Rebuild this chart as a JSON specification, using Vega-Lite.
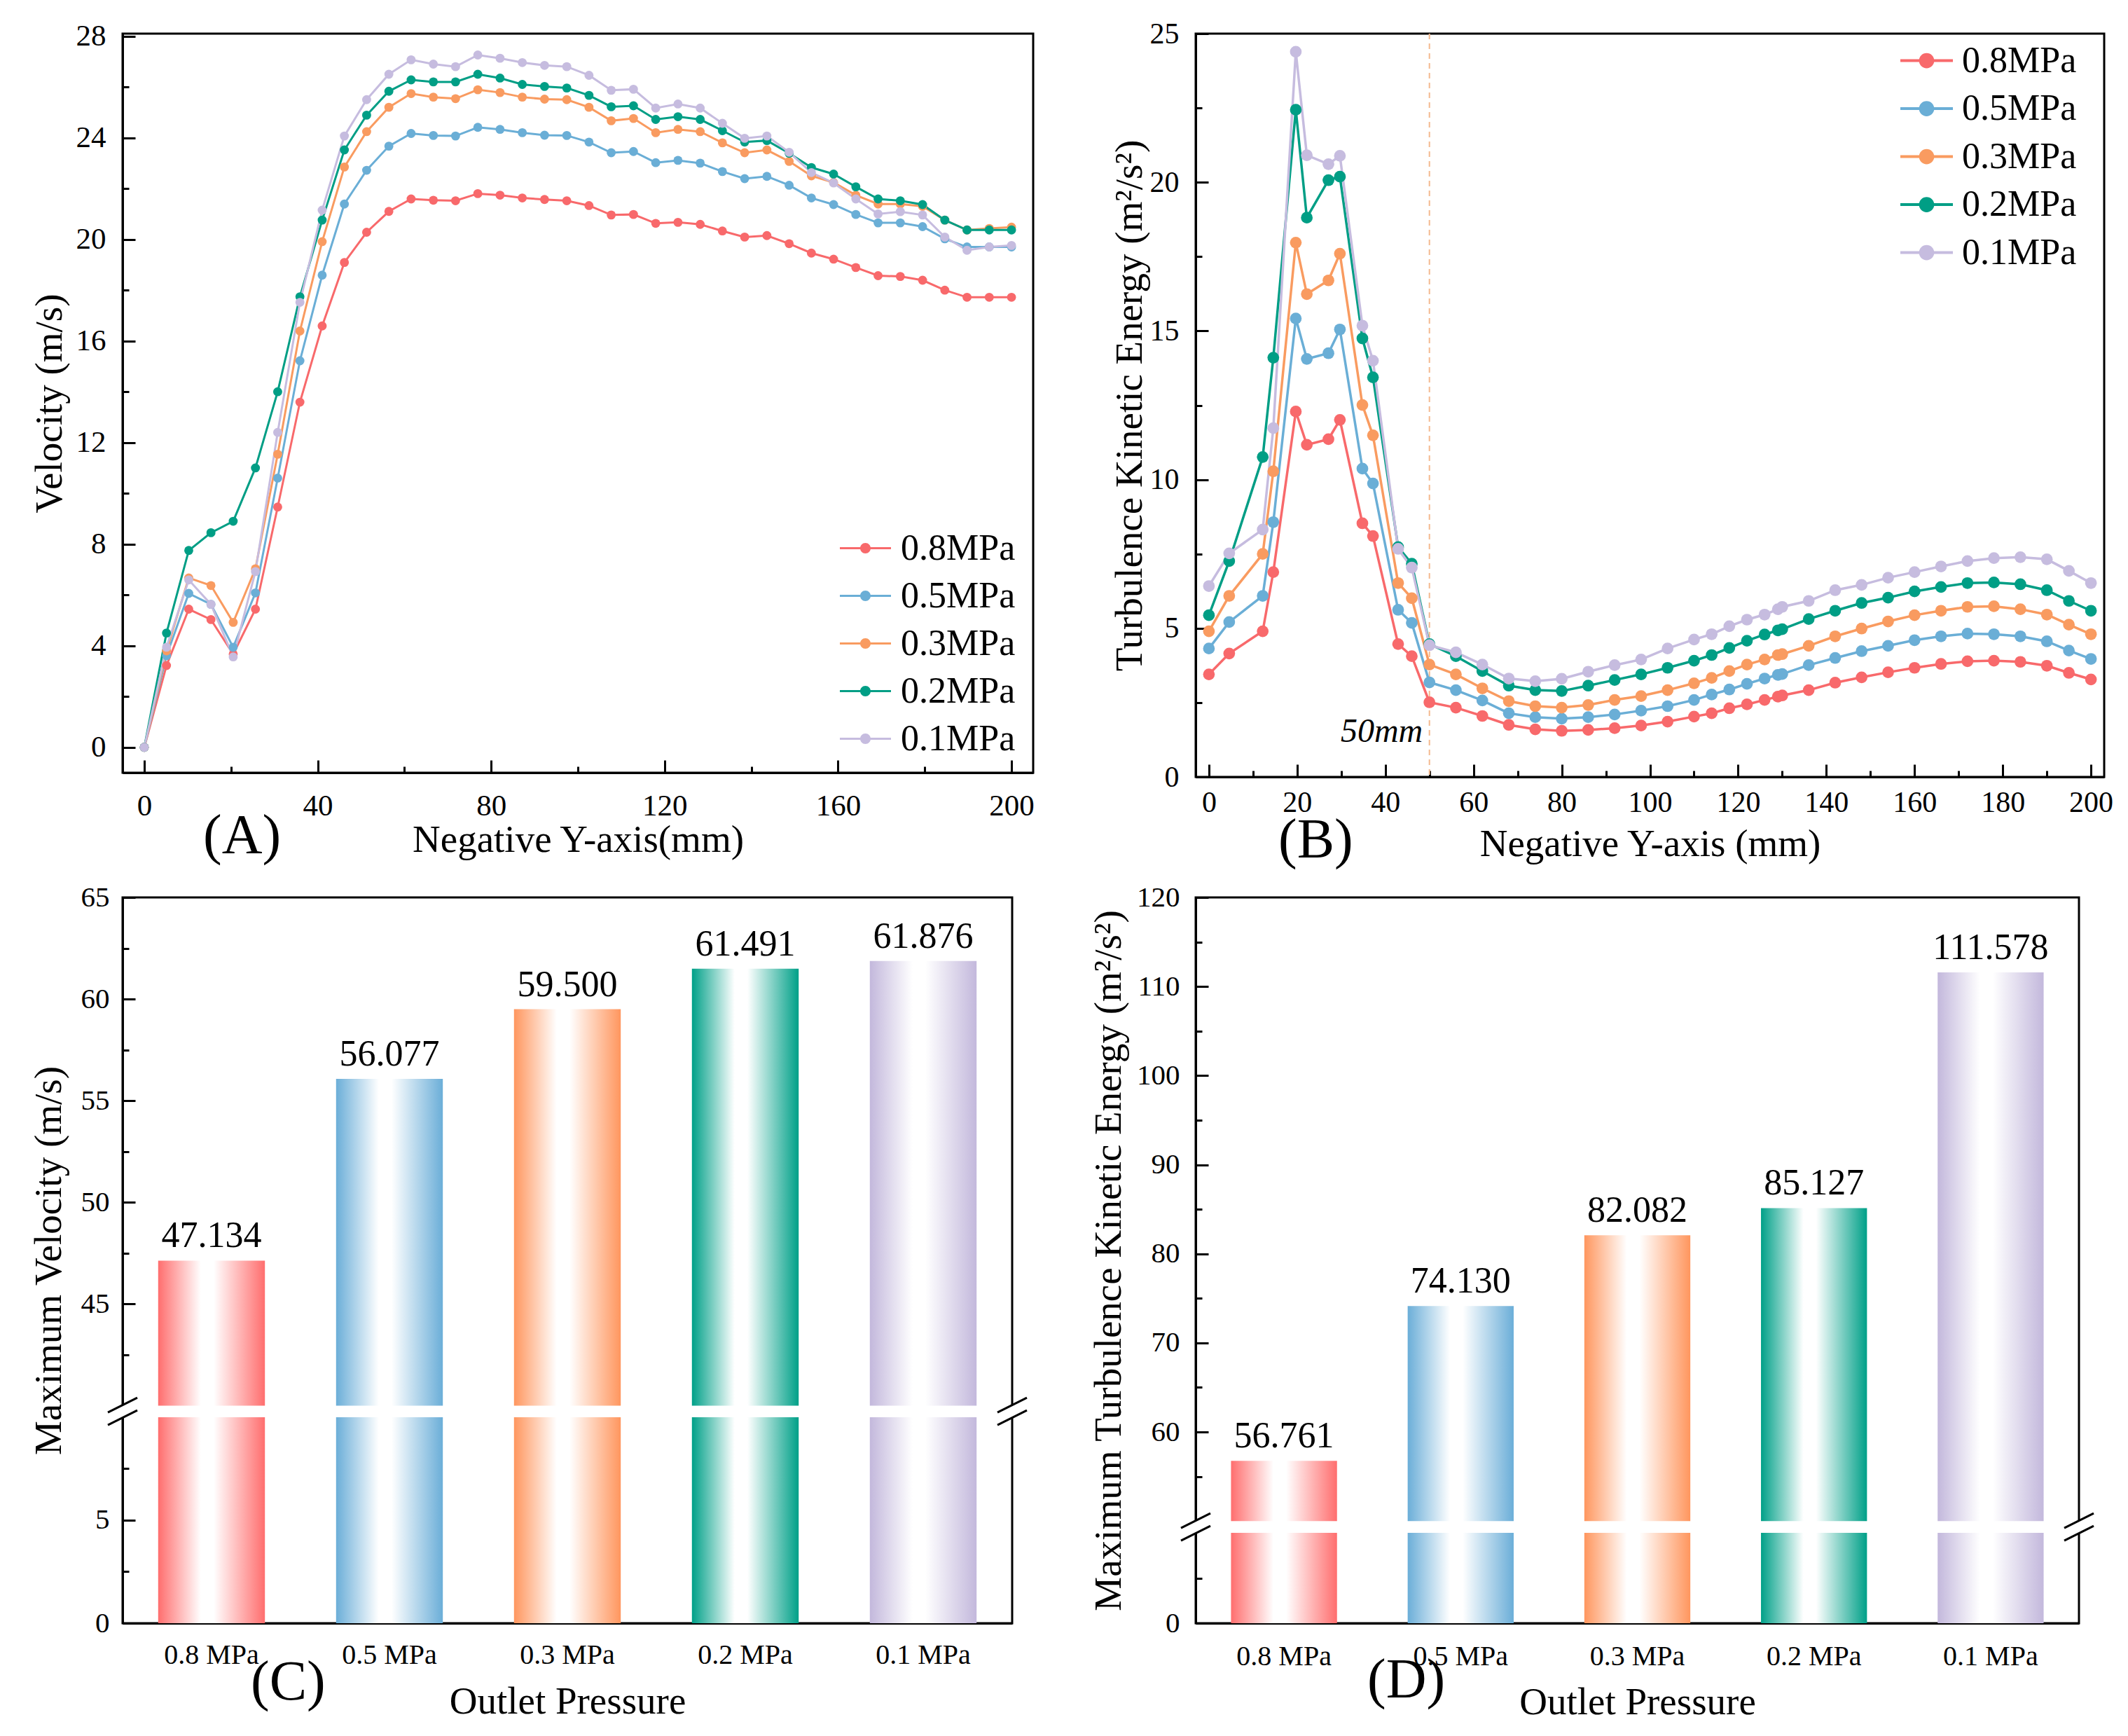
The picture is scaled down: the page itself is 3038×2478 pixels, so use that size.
{
"$schema": "https://vega.github.io/schema/vega-lite/v6.json",
"background": "white",
"padding": {"left": 40, "top": 25, "right": 10, "bottom": 10},
"columns": 2,
"spacing": {"row": 172, "column": 232},
"bounds": "flush",
"align": "all",
"resolve": {"scale": {"color": "independent", "stroke": "independent"}, "legend": {"color": "independent", "stroke": "independent"}},
"config": {
  "font": "Liberation Serif",
  "view": {"stroke": "black", "strokeWidth": 3},
  "axis": {"domainColor": "black", "domainWidth": 3, "tickColor": "black", "tickWidth": 3, "labelColor": "black", "titleColor": "black", "labelFont": "Liberation Serif", "titleFont": "Liberation Serif", "labelFontSize": 43, "titleFontSize": 55, "titleFontWeight": "normal", "grid": false, "labelFlush": false},
  "legend": {"labelFont": "Liberation Serif", "labelFontSize": 52, "labelColor": "black", "labelLimit": 500},
  "title": {"font": "Liberation Serif", "fontSize": 80, "fontWeight": "normal", "color": "black"},
  "text": {"font": "Liberation Serif", "color": "black"}
},
"datasets": {
"vel": [
{"s":"0.8MPa","x":0,"y":0},{"s":"0.8MPa","x":5.13,"y":3.22},{"s":"0.8MPa","x":10.26,"y":5.44},{"s":"0.8MPa","x":15.38,"y":5.03},{"s":"0.8MPa","x":20.51,"y":3.67},{"s":"0.8MPa","x":25.64,"y":5.44},{"s":"0.8MPa","x":30.77,"y":9.46},{"s":"0.8MPa","x":35.9,"y":13.59},{"s":"0.8MPa","x":41.03,"y":16.59},{"s":"0.8MPa","x":46.15,"y":19.09},{"s":"0.8MPa","x":51.28,"y":20.28},{"s":"0.8MPa","x":56.41,"y":21.1},{"s":"0.8MPa","x":61.54,"y":21.59},{"s":"0.8MPa","x":66.67,"y":21.54},{"s":"0.8MPa","x":71.79,"y":21.52},{"s":"0.8MPa","x":76.92,"y":21.8},{"s":"0.8MPa","x":82.05,"y":21.74},{"s":"0.8MPa","x":87.18,"y":21.63},{"s":"0.8MPa","x":92.31,"y":21.57},{"s":"0.8MPa","x":97.44,"y":21.52},{"s":"0.8MPa","x":102.56,"y":21.33},{"s":"0.8MPa","x":107.69,"y":20.96},{"s":"0.8MPa","x":112.82,"y":20.98},{"s":"0.8MPa","x":117.95,"y":20.63},{"s":"0.8MPa","x":123.08,"y":20.67},{"s":"0.8MPa","x":128.21,"y":20.59},{"s":"0.8MPa","x":133.33,"y":20.33},{"s":"0.8MPa","x":138.46,"y":20.09},{"s":"0.8MPa","x":143.59,"y":20.15},{"s":"0.8MPa","x":148.72,"y":19.83},{"s":"0.8MPa","x":153.85,"y":19.46},{"s":"0.8MPa","x":158.97,"y":19.22},{"s":"0.8MPa","x":164.1,"y":18.89},{"s":"0.8MPa","x":169.23,"y":18.57},{"s":"0.8MPa","x":174.36,"y":18.54},{"s":"0.8MPa","x":179.49,"y":18.39},{"s":"0.8MPa","x":184.62,"y":18.0},{"s":"0.8MPa","x":189.74,"y":17.72},{"s":"0.8MPa","x":194.87,"y":17.72},{"s":"0.8MPa","x":200,"y":17.72},
{"s":"0.5MPa","x":0,"y":0},{"s":"0.5MPa","x":5.13,"y":3.61},{"s":"0.5MPa","x":10.26,"y":6.06},{"s":"0.5MPa","x":15.38,"y":5.63},{"s":"0.5MPa","x":20.51,"y":3.94},{"s":"0.5MPa","x":25.64,"y":6.08},{"s":"0.5MPa","x":30.77,"y":10.6},{"s":"0.5MPa","x":35.9,"y":15.22},{"s":"0.5MPa","x":41.03,"y":18.59},{"s":"0.5MPa","x":46.15,"y":21.39},{"s":"0.5MPa","x":51.28,"y":22.72},{"s":"0.5MPa","x":56.41,"y":23.67},{"s":"0.5MPa","x":61.54,"y":24.17},{"s":"0.5MPa","x":66.67,"y":24.09},{"s":"0.5MPa","x":71.79,"y":24.07},{"s":"0.5MPa","x":76.92,"y":24.41},{"s":"0.5MPa","x":82.05,"y":24.33},{"s":"0.5MPa","x":87.18,"y":24.2},{"s":"0.5MPa","x":92.31,"y":24.1},{"s":"0.5MPa","x":97.44,"y":24.09},{"s":"0.5MPa","x":102.56,"y":23.83},{"s":"0.5MPa","x":107.69,"y":23.41},{"s":"0.5MPa","x":112.82,"y":23.46},{"s":"0.5MPa","x":117.95,"y":23.02},{"s":"0.5MPa","x":123.08,"y":23.11},{"s":"0.5MPa","x":128.21,"y":23.0},{"s":"0.5MPa","x":133.33,"y":22.67},{"s":"0.5MPa","x":138.46,"y":22.39},{"s":"0.5MPa","x":143.59,"y":22.48},{"s":"0.5MPa","x":148.72,"y":22.13},{"s":"0.5MPa","x":153.85,"y":21.63},{"s":"0.5MPa","x":158.97,"y":21.37},{"s":"0.5MPa","x":164.1,"y":20.98},{"s":"0.5MPa","x":169.23,"y":20.65},{"s":"0.5MPa","x":174.36,"y":20.65},{"s":"0.5MPa","x":179.49,"y":20.5},{"s":"0.5MPa","x":184.62,"y":20.02},{"s":"0.5MPa","x":189.74,"y":19.7},{"s":"0.5MPa","x":194.87,"y":19.7},{"s":"0.5MPa","x":200,"y":19.7},
{"s":"0.3MPa","x":0,"y":0},{"s":"0.3MPa","x":5.13,"y":3.8},{"s":"0.3MPa","x":10.26,"y":6.67},{"s":"0.3MPa","x":15.38,"y":6.37},{"s":"0.3MPa","x":20.51,"y":4.92},{"s":"0.3MPa","x":25.64,"y":7.03},{"s":"0.3MPa","x":30.77,"y":11.54},{"s":"0.3MPa","x":35.9,"y":16.39},{"s":"0.3MPa","x":41.03,"y":19.91},{"s":"0.3MPa","x":46.15,"y":22.85},{"s":"0.3MPa","x":51.28,"y":24.24},{"s":"0.3MPa","x":56.41,"y":25.2},{"s":"0.3MPa","x":61.54,"y":25.74},{"s":"0.3MPa","x":66.67,"y":25.6},{"s":"0.3MPa","x":71.79,"y":25.54},{"s":"0.3MPa","x":76.92,"y":25.89},{"s":"0.3MPa","x":82.05,"y":25.78},{"s":"0.3MPa","x":87.18,"y":25.6},{"s":"0.3MPa","x":92.31,"y":25.52},{"s":"0.3MPa","x":97.44,"y":25.5},{"s":"0.3MPa","x":102.56,"y":25.2},{"s":"0.3MPa","x":107.69,"y":24.67},{"s":"0.3MPa","x":112.82,"y":24.76},{"s":"0.3MPa","x":117.95,"y":24.2},{"s":"0.3MPa","x":123.08,"y":24.33},{"s":"0.3MPa","x":128.21,"y":24.24},{"s":"0.3MPa","x":133.33,"y":23.8},{"s":"0.3MPa","x":138.46,"y":23.41},{"s":"0.3MPa","x":143.59,"y":23.52},{"s":"0.3MPa","x":148.72,"y":23.07},{"s":"0.3MPa","x":153.85,"y":22.5},{"s":"0.3MPa","x":158.97,"y":22.24},{"s":"0.3MPa","x":164.1,"y":21.74},{"s":"0.3MPa","x":169.23,"y":21.39},{"s":"0.3MPa","x":174.36,"y":21.39},{"s":"0.3MPa","x":179.49,"y":21.3},{"s":"0.3MPa","x":184.62,"y":20.76},{"s":"0.3MPa","x":189.74,"y":20.37},{"s":"0.3MPa","x":194.87,"y":20.43},{"s":"0.3MPa","x":200,"y":20.48},
{"s":"0.2MPa","x":0,"y":0},{"s":"0.2MPa","x":5.13,"y":4.5},{"s":"0.2MPa","x":10.26,"y":7.75},{"s":"0.2MPa","x":15.38,"y":8.45},{"s":"0.2MPa","x":20.51,"y":8.9},{"s":"0.2MPa","x":25.64,"y":11.0},{"s":"0.2MPa","x":30.77,"y":14.0},{"s":"0.2MPa","x":35.9,"y":17.74},{"s":"0.2MPa","x":41.03,"y":20.76},{"s":"0.2MPa","x":46.15,"y":23.52},{"s":"0.2MPa","x":51.28,"y":24.89},{"s":"0.2MPa","x":56.41,"y":25.83},{"s":"0.2MPa","x":61.54,"y":26.28},{"s":"0.2MPa","x":66.67,"y":26.2},{"s":"0.2MPa","x":71.79,"y":26.2},{"s":"0.2MPa","x":76.92,"y":26.5},{"s":"0.2MPa","x":82.05,"y":26.35},{"s":"0.2MPa","x":87.18,"y":26.1},{"s":"0.2MPa","x":92.31,"y":26.02},{"s":"0.2MPa","x":97.44,"y":25.96},{"s":"0.2MPa","x":102.56,"y":25.67},{"s":"0.2MPa","x":107.69,"y":25.22},{"s":"0.2MPa","x":112.82,"y":25.26},{"s":"0.2MPa","x":117.95,"y":24.72},{"s":"0.2MPa","x":123.08,"y":24.83},{"s":"0.2MPa","x":128.21,"y":24.72},{"s":"0.2MPa","x":133.33,"y":24.28},{"s":"0.2MPa","x":138.46,"y":23.83},{"s":"0.2MPa","x":143.59,"y":23.89},{"s":"0.2MPa","x":148.72,"y":23.39},{"s":"0.2MPa","x":153.85,"y":22.83},{"s":"0.2MPa","x":158.97,"y":22.57},{"s":"0.2MPa","x":164.1,"y":22.07},{"s":"0.2MPa","x":169.23,"y":21.59},{"s":"0.2MPa","x":174.36,"y":21.52},{"s":"0.2MPa","x":179.49,"y":21.37},{"s":"0.2MPa","x":184.62,"y":20.76},{"s":"0.2MPa","x":189.74,"y":20.37},{"s":"0.2MPa","x":194.87,"y":20.37},{"s":"0.2MPa","x":200,"y":20.37},
{"s":"0.1MPa","x":0,"y":0},{"s":"0.1MPa","x":5.13,"y":3.94},{"s":"0.1MPa","x":10.26,"y":6.59},{"s":"0.1MPa","x":15.38,"y":5.63},{"s":"0.1MPa","x":20.51,"y":3.56},{"s":"0.1MPa","x":25.64,"y":6.92},{"s":"0.1MPa","x":30.77,"y":12.4},{"s":"0.1MPa","x":35.9,"y":17.52},{"s":"0.1MPa","x":41.03,"y":21.15},{"s":"0.1MPa","x":46.15,"y":24.07},{"s":"0.1MPa","x":51.28,"y":25.5},{"s":"0.1MPa","x":56.41,"y":26.5},{"s":"0.1MPa","x":61.54,"y":27.07},{"s":"0.1MPa","x":66.67,"y":26.9},{"s":"0.1MPa","x":71.79,"y":26.8},{"s":"0.1MPa","x":76.92,"y":27.26},{"s":"0.1MPa","x":82.05,"y":27.13},{"s":"0.1MPa","x":87.18,"y":26.96},{"s":"0.1MPa","x":92.31,"y":26.85},{"s":"0.1MPa","x":97.44,"y":26.8},{"s":"0.1MPa","x":102.56,"y":26.46},{"s":"0.1MPa","x":107.69,"y":25.87},{"s":"0.1MPa","x":112.82,"y":25.91},{"s":"0.1MPa","x":117.95,"y":25.17},{"s":"0.1MPa","x":123.08,"y":25.33},{"s":"0.1MPa","x":128.21,"y":25.17},{"s":"0.1MPa","x":133.33,"y":24.57},{"s":"0.1MPa","x":138.46,"y":23.98},{"s":"0.1MPa","x":143.59,"y":24.07},{"s":"0.1MPa","x":148.72,"y":23.43},{"s":"0.1MPa","x":153.85,"y":22.63},{"s":"0.1MPa","x":158.97,"y":22.22},{"s":"0.1MPa","x":164.1,"y":21.59},{"s":"0.1MPa","x":169.23,"y":21.0},{"s":"0.1MPa","x":174.36,"y":21.09},{"s":"0.1MPa","x":179.49,"y":20.96},{"s":"0.1MPa","x":184.62,"y":20.09},{"s":"0.1MPa","x":189.74,"y":19.57},{"s":"0.1MPa","x":194.87,"y":19.7},{"s":"0.1MPa","x":200,"y":19.76}
],
"tke": [
{"s":"0.8MPa","x":0,"y":3.45},{"s":"0.8MPa","x":4.6,"y":4.15},{"s":"0.8MPa","x":12.2,"y":4.9},{"s":"0.8MPa","x":14.6,"y":6.89},{"s":"0.8MPa","x":19.7,"y":12.29},{"s":"0.8MPa","x":22.2,"y":11.17},{"s":"0.8MPa","x":27.1,"y":11.36},{"s":"0.8MPa","x":29.7,"y":12.01},{"s":"0.8MPa","x":34.8,"y":8.53},{"s":"0.8MPa","x":37.2,"y":8.1},{"s":"0.8MPa","x":42.9,"y":4.47},{"s":"0.8MPa","x":46,"y":4.06},{"s":"0.8MPa","x":50,"y":2.51},{"s":"0.8MPa","x":56,"y":2.33},{"s":"0.8MPa","x":62,"y":2.05},{"s":"0.8MPa","x":68,"y":1.75},{"s":"0.8MPa","x":74,"y":1.6},{"s":"0.8MPa","x":80,"y":1.55},{"s":"0.8MPa","x":86,"y":1.58},{"s":"0.8MPa","x":92,"y":1.64},{"s":"0.8MPa","x":98,"y":1.73},{"s":"0.8MPa","x":104,"y":1.86},{"s":"0.8MPa","x":110,"y":2.03},{"s":"0.8MPa","x":114,"y":2.14},{"s":"0.8MPa","x":118,"y":2.31},{"s":"0.8MPa","x":122,"y":2.44},{"s":"0.8MPa","x":126,"y":2.59},{"s":"0.8MPa","x":129,"y":2.7},{"s":"0.8MPa","x":130,"y":2.74},{"s":"0.8MPa","x":136,"y":2.92},{"s":"0.8MPa","x":142,"y":3.17},{"s":"0.8MPa","x":148,"y":3.35},{"s":"0.8MPa","x":154,"y":3.52},{"s":"0.8MPa","x":160,"y":3.67},{"s":"0.8MPa","x":166,"y":3.8},{"s":"0.8MPa","x":172,"y":3.89},{"s":"0.8MPa","x":178,"y":3.91},{"s":"0.8MPa","x":184,"y":3.87},{"s":"0.8MPa","x":190,"y":3.74},{"s":"0.8MPa","x":195,"y":3.5},{"s":"0.8MPa","x":200,"y":3.28},
{"s":"0.5MPa","x":0,"y":4.32},{"s":"0.5MPa","x":4.6,"y":5.21},{"s":"0.5MPa","x":12.2,"y":6.09},{"s":"0.5MPa","x":14.6,"y":8.57},{"s":"0.5MPa","x":19.7,"y":15.42},{"s":"0.5MPa","x":22.2,"y":14.06},{"s":"0.5MPa","x":27.1,"y":14.25},{"s":"0.5MPa","x":29.7,"y":15.05},{"s":"0.5MPa","x":34.8,"y":10.37},{"s":"0.5MPa","x":37.2,"y":9.87},{"s":"0.5MPa","x":42.9,"y":5.62},{"s":"0.5MPa","x":46,"y":5.18},{"s":"0.5MPa","x":50,"y":3.18},{"s":"0.5MPa","x":56,"y":2.92},{"s":"0.5MPa","x":62,"y":2.57},{"s":"0.5MPa","x":68,"y":2.14},{"s":"0.5MPa","x":74,"y":2.01},{"s":"0.5MPa","x":80,"y":1.96},{"s":"0.5MPa","x":86,"y":2.01},{"s":"0.5MPa","x":92,"y":2.1},{"s":"0.5MPa","x":98,"y":2.23},{"s":"0.5MPa","x":104,"y":2.38},{"s":"0.5MPa","x":110,"y":2.59},{"s":"0.5MPa","x":114,"y":2.77},{"s":"0.5MPa","x":118,"y":2.94},{"s":"0.5MPa","x":122,"y":3.13},{"s":"0.5MPa","x":126,"y":3.31},{"s":"0.5MPa","x":129,"y":3.43},{"s":"0.5MPa","x":130,"y":3.46},{"s":"0.5MPa","x":136,"y":3.76},{"s":"0.5MPa","x":142,"y":4.0},{"s":"0.5MPa","x":148,"y":4.23},{"s":"0.5MPa","x":154,"y":4.41},{"s":"0.5MPa","x":160,"y":4.6},{"s":"0.5MPa","x":166,"y":4.73},{"s":"0.5MPa","x":172,"y":4.82},{"s":"0.5MPa","x":178,"y":4.8},{"s":"0.5MPa","x":184,"y":4.73},{"s":"0.5MPa","x":190,"y":4.56},{"s":"0.5MPa","x":195,"y":4.25},{"s":"0.5MPa","x":200,"y":3.97},
{"s":"0.3MPa","x":0,"y":4.9},{"s":"0.3MPa","x":4.6,"y":6.09},{"s":"0.3MPa","x":12.2,"y":7.5},{"s":"0.3MPa","x":14.6,"y":10.28},{"s":"0.3MPa","x":19.7,"y":17.97},{"s":"0.3MPa","x":22.2,"y":16.24},{"s":"0.3MPa","x":27.1,"y":16.7},{"s":"0.3MPa","x":29.7,"y":17.6},{"s":"0.3MPa","x":34.8,"y":12.51},{"s":"0.3MPa","x":37.2,"y":11.49},{"s":"0.3MPa","x":42.9,"y":6.52},{"s":"0.3MPa","x":46,"y":6.01},{"s":"0.3MPa","x":50,"y":3.78},{"s":"0.3MPa","x":56,"y":3.45},{"s":"0.3MPa","x":62,"y":2.98},{"s":"0.3MPa","x":68,"y":2.55},{"s":"0.3MPa","x":74,"y":2.38},{"s":"0.3MPa","x":80,"y":2.33},{"s":"0.3MPa","x":86,"y":2.42},{"s":"0.3MPa","x":92,"y":2.59},{"s":"0.3MPa","x":98,"y":2.72},{"s":"0.3MPa","x":104,"y":2.92},{"s":"0.3MPa","x":110,"y":3.15},{"s":"0.3MPa","x":114,"y":3.33},{"s":"0.3MPa","x":118,"y":3.56},{"s":"0.3MPa","x":122,"y":3.78},{"s":"0.3MPa","x":126,"y":3.95},{"s":"0.3MPa","x":129,"y":4.1},{"s":"0.3MPa","x":130,"y":4.13},{"s":"0.3MPa","x":136,"y":4.41},{"s":"0.3MPa","x":142,"y":4.73},{"s":"0.3MPa","x":148,"y":4.99},{"s":"0.3MPa","x":154,"y":5.23},{"s":"0.3MPa","x":160,"y":5.44},{"s":"0.3MPa","x":166,"y":5.59},{"s":"0.3MPa","x":172,"y":5.72},{"s":"0.3MPa","x":178,"y":5.74},{"s":"0.3MPa","x":184,"y":5.64},{"s":"0.3MPa","x":190,"y":5.46},{"s":"0.3MPa","x":195,"y":5.12},{"s":"0.3MPa","x":200,"y":4.8},
{"s":"0.2MPa","x":0,"y":5.44},{"s":"0.2MPa","x":4.6,"y":7.26},{"s":"0.2MPa","x":12.2,"y":10.76},{"s":"0.2MPa","x":14.6,"y":14.1},{"s":"0.2MPa","x":19.7,"y":22.44},{"s":"0.2MPa","x":22.2,"y":18.81},{"s":"0.2MPa","x":27.1,"y":20.07},{"s":"0.2MPa","x":29.7,"y":20.19},{"s":"0.2MPa","x":34.8,"y":14.75},{"s":"0.2MPa","x":37.2,"y":13.44},{"s":"0.2MPa","x":42.9,"y":7.73},{"s":"0.2MPa","x":46,"y":7.17},{"s":"0.2MPa","x":50,"y":4.47},{"s":"0.2MPa","x":56,"y":4.06},{"s":"0.2MPa","x":62,"y":3.56},{"s":"0.2MPa","x":68,"y":3.07},{"s":"0.2MPa","x":74,"y":2.92},{"s":"0.2MPa","x":80,"y":2.89},{"s":"0.2MPa","x":86,"y":3.07},{"s":"0.2MPa","x":92,"y":3.26},{"s":"0.2MPa","x":98,"y":3.45},{"s":"0.2MPa","x":104,"y":3.67},{"s":"0.2MPa","x":110,"y":3.91},{"s":"0.2MPa","x":114,"y":4.1},{"s":"0.2MPa","x":118,"y":4.34},{"s":"0.2MPa","x":122,"y":4.58},{"s":"0.2MPa","x":126,"y":4.79},{"s":"0.2MPa","x":129,"y":4.93},{"s":"0.2MPa","x":130,"y":4.97},{"s":"0.2MPa","x":136,"y":5.31},{"s":"0.2MPa","x":142,"y":5.59},{"s":"0.2MPa","x":148,"y":5.85},{"s":"0.2MPa","x":154,"y":6.03},{"s":"0.2MPa","x":160,"y":6.24},{"s":"0.2MPa","x":166,"y":6.39},{"s":"0.2MPa","x":172,"y":6.52},{"s":"0.2MPa","x":178,"y":6.54},{"s":"0.2MPa","x":184,"y":6.48},{"s":"0.2MPa","x":190,"y":6.28},{"s":"0.2MPa","x":195,"y":5.92},{"s":"0.2MPa","x":200,"y":5.59},
{"s":"0.1MPa","x":0,"y":6.42},{"s":"0.1MPa","x":4.6,"y":7.52},{"s":"0.1MPa","x":12.2,"y":8.32},{"s":"0.1MPa","x":14.6,"y":11.73},{"s":"0.1MPa","x":19.7,"y":24.39},{"s":"0.1MPa","x":22.2,"y":20.91},{"s":"0.1MPa","x":27.1,"y":20.61},{"s":"0.1MPa","x":29.7,"y":20.89},{"s":"0.1MPa","x":34.8,"y":15.18},{"s":"0.1MPa","x":37.2,"y":14.0},{"s":"0.1MPa","x":42.9,"y":7.67},{"s":"0.1MPa","x":46,"y":7.04},{"s":"0.1MPa","x":50,"y":4.43},{"s":"0.1MPa","x":56,"y":4.19},{"s":"0.1MPa","x":62,"y":3.78},{"s":"0.1MPa","x":68,"y":3.31},{"s":"0.1MPa","x":74,"y":3.22},{"s":"0.1MPa","x":80,"y":3.3},{"s":"0.1MPa","x":86,"y":3.54},{"s":"0.1MPa","x":92,"y":3.76},{"s":"0.1MPa","x":98,"y":3.95},{"s":"0.1MPa","x":104,"y":4.32},{"s":"0.1MPa","x":110,"y":4.62},{"s":"0.1MPa","x":114,"y":4.8},{"s":"0.1MPa","x":118,"y":5.07},{"s":"0.1MPa","x":122,"y":5.29},{"s":"0.1MPa","x":126,"y":5.46},{"s":"0.1MPa","x":129,"y":5.64},{"s":"0.1MPa","x":130,"y":5.72},{"s":"0.1MPa","x":136,"y":5.92},{"s":"0.1MPa","x":142,"y":6.28},{"s":"0.1MPa","x":148,"y":6.46},{"s":"0.1MPa","x":154,"y":6.7},{"s":"0.1MPa","x":160,"y":6.89},{"s":"0.1MPa","x":166,"y":7.08},{"s":"0.1MPa","x":172,"y":7.26},{"s":"0.1MPa","x":178,"y":7.36},{"s":"0.1MPa","x":184,"y":7.39},{"s":"0.1MPa","x":190,"y":7.32},{"s":"0.1MPa","x":195,"y":6.93},{"s":"0.1MPa","x":200,"y":6.52}
],
"vmax": [{"p":"0.8 MPa","v":47.134},{"p":"0.5 MPa","v":56.077},{"p":"0.3 MPa","v":59.5},{"p":"0.2 MPa","v":61.491},{"p":"0.1 MPa","v":61.876}],
"kmax": [{"p":"0.8 MPa","v":56.761},{"p":"0.5 MPa","v":74.13},{"p":"0.3 MPa","v":82.082},{"p":"0.2 MPa","v":85.127},{"p":"0.1 MPa","v":111.578}]
},
"concat": [
{
 "width": 1300, "height": 1055,
 "data": {"name": "vel"},
 "title": {"text": "(A)", "orient": "bottom", "anchor": "start", "frame": "group", "dx": 115, "offset": -71, "baseline": "top", "fontSize": 80},
 "layer": [
  {"mark": {"type": "line", "strokeWidth": 3},
   "encoding": {
    "x": {"field": "x", "type": "quantitative", "scale": {"domain": [-5, 205], "nice": false, "zero": false}, "axis": {"orient": "bottom", "values": [0, 40, 80, 120, 160, 200], "tickSize": -18, "labelPadding": 44, "labelFontSize": 43, "title": "Negative Y-axis(mm)", "titlePadding": 0}},
    "y": {"field": "y", "type": "quantitative", "scale": {"domain": [-1, 28.1], "nice": false, "zero": false}, "axis": {"orient": "left", "values": [0, 4, 8, 12, 16, 20, 24, 28], "tickSize": -18, "labelPadding": 42, "labelFontSize": 43, "title": "Velocity (m/s)", "titlePadding": 9}},
    "stroke": {"field": "s", "type": "nominal", "scale": {"domain": ["0.8MPa", "0.5MPa", "0.3MPa", "0.2MPa", "0.1MPa"], "range": ["#F8696B", "#6AAED6", "#F99B60", "#009E85", "#C6BCDF"]}, "legend": {"orient": "none", "legendX": 1024, "legendY": 698, "title": null, "labelFontSize": 52, "labelLimit": 500, "symbolType": "M-1,-0.041L1,-0.041L1,0.041L-1,0.041Z M0.205,0A0.205,0.205 0 1,1 -0.205,0A0.205,0.205 0 1,1 0.205,0Z", "symbolSize": 5329, "symbolStrokeWidth": 0, "rowPadding": 5, "labelOffset": 14, "padding": 0}}
   }},
  {"mark": {"type": "point", "filled": true, "opacity": 1, "size": 165},
   "encoding": {
    "x": {"field": "x", "type": "quantitative", "axis": {"orient": "bottom", "values": [20, 60, 100, 140, 180], "tickSize": -9, "labels": false, "domain": false, "title": null}},
    "y": {"field": "y", "type": "quantitative", "axis": {"orient": "left", "values": [2, 6, 10, 14, 18, 22, 26], "tickSize": -9, "labels": false, "domain": false, "title": null}},
    "color": {"field": "s", "type": "nominal", "scale": {"domain": ["0.8MPa", "0.5MPa", "0.3MPa", "0.2MPa", "0.1MPa"], "range": ["#F8696B", "#6AAED6", "#F99B60", "#009E85", "#C6BCDF"]}, "legend": {"orient": "none", "legendX": 1024, "legendY": 698, "title": null, "labelFontSize": 52, "labelLimit": 500, "symbolType": "M-1,-0.041L1,-0.041L1,0.041L-1,0.041Z M0.205,0A0.205,0.205 0 1,1 -0.205,0A0.205,0.205 0 1,1 0.205,0Z", "symbolSize": 5329, "symbolStrokeWidth": 0, "rowPadding": 5, "labelOffset": 14, "padding": 0}}
   }}
 ],
 "resolve": {"axis": {"x": "independent", "y": "independent"}}
},
{
 "width": 1297, "height": 1061,
 "data": {"name": "tke"},
 "title": {"text": "(B)", "orient": "bottom", "anchor": "start", "frame": "group", "dx": 118, "offset": -71, "baseline": "top", "fontSize": 80},
 "layer": [
  {"data": {"values": [{}]},
   "mark": {"type": "rule", "color": "#F4B98E", "strokeWidth": 2, "strokeDash": [8, 6]},
   "encoding": {"x": {"datum": 50, "type": "quantitative", "axis": null}}},
  {"mark": {"type": "line", "strokeWidth": 3.5},
   "encoding": {
    "x": {"field": "x", "type": "quantitative", "scale": {"domain": [-3, 203], "nice": false, "zero": false}, "axis": {"orient": "bottom", "values": [0, 20, 40, 60, 80, 100, 120, 140, 160, 180, 200], "tickSize": -18, "labelPadding": 34, "labelFontSize": 42, "title": "Negative Y-axis (mm)", "titlePadding": 12}},
    "y": {"field": "y", "type": "quantitative", "scale": {"domain": [0, 25], "nice": false, "zero": false}, "axis": {"orient": "left", "values": [0, 5, 10, 15, 20, 25], "tickSize": -18, "labelPadding": 42, "labelFontSize": 42, "title": "Turbulence Kinetic Energy (m²/s²)", "titlePadding": 0}},
    "stroke": {"field": "s", "type": "nominal", "scale": {"domain": ["0.8MPa", "0.5MPa", "0.3MPa", "0.2MPa", "0.1MPa"], "range": ["#F8696B", "#6AAED6", "#F99B60", "#009E85", "#C6BCDF"]}, "legend": {"orient": "none", "legendX": 1006, "legendY": 1, "title": null, "labelFontSize": 52, "labelLimit": 500, "symbolType": "M-1,-0.053L1,-0.053L1,0.053L-1,0.053Z M0.29,0A0.29,0.29 0 1,1 -0.29,0A0.29,0.29 0 1,1 0.29,0Z", "symbolSize": 5625, "symbolStrokeWidth": 0, "rowPadding": 4.5, "labelOffset": 13, "padding": 0}}
   }},
  {"mark": {"type": "point", "filled": true, "opacity": 1, "size": 280},
   "encoding": {
    "x": {"field": "x", "type": "quantitative", "axis": {"orient": "bottom", "values": [10, 30, 50, 70, 90, 110, 130, 150, 170, 190], "tickSize": -9, "labels": false, "domain": false, "title": null}},
    "y": {"field": "y", "type": "quantitative", "axis": {"orient": "left", "values": [2.5, 7.5, 12.5, 17.5, 22.5], "tickSize": -9, "labels": false, "domain": false, "title": null}},
    "color": {"field": "s", "type": "nominal", "scale": {"domain": ["0.8MPa", "0.5MPa", "0.3MPa", "0.2MPa", "0.1MPa"], "range": ["#F8696B", "#6AAED6", "#F99B60", "#009E85", "#C6BCDF"]}, "legend": {"orient": "none", "legendX": 1006, "legendY": 1, "title": null, "labelFontSize": 52, "labelLimit": 500, "symbolType": "M-1,-0.053L1,-0.053L1,0.053L-1,0.053Z M0.29,0A0.29,0.29 0 1,1 -0.29,0A0.29,0.29 0 1,1 0.29,0Z", "symbolSize": 5625, "symbolStrokeWidth": 0, "rowPadding": 4.5, "labelOffset": 13, "padding": 0}}
   }},
  {"data": {"values": [{}]},
   "mark": {"type": "text", "text": "50mm", "fontStyle": "italic", "fontSize": 48, "align": "right", "baseline": "middle"},
   "encoding": {"x": {"datum": 48.5, "type": "quantitative", "axis": null}, "y": {"datum": 1.5, "type": "quantitative", "axis": null}}}
 ],
 "resolve": {"axis": {"x": "independent", "y": "independent"}}
},
{
 "width": 1270, "height": 1036,
 "data": {"name": "vmax"},
 "title": {"text": "(C)", "orient": "bottom", "anchor": "start", "frame": "group", "dx": 183, "offset": -93, "baseline": "top", "fontSize": 80},
 "layer": [
  {"mark": {"type": "bar"},
   "encoding": {
    "x": {"field": "p", "type": "nominal", "scale": {"domain": ["0.8 MPa", "0.5 MPa", "0.3 MPa", "0.2 MPa", "0.1 MPa"], "paddingInner": 0.4, "paddingOuter": 0.2}, "axis": {"orient": "bottom", "labelAngle": 0, "tickSize": -15, "labelPadding": 40, "labelFontSize": 40, "title": "Outlet Pressure", "titlePadding": 20}},
    "y": {"field": "v", "type": "quantitative", "scale": {"domain": [0, 10, 40, 65], "range": [1036, 741.9, 725.4, 0], "nice": false, "zero": false}, "axis": {"orient": "left", "values": [0, 5, 45, 50, 55, 60, 65], "tickSize": -18, "labelPadding": 37, "labelFontSize": 41, "title": "Maximum Velocity (m/s)", "titlePadding": 17}},
    "y2": {"datum": 40},
    "fill": {"condition": [
      {"test": "datum.p === '0.8 MPa'", "value": {"gradient": "linear", "x1": 0, "y1": 0, "x2": 1, "y2": 0, "stops": [{"offset": 0, "color": "#FF6E6E"}, {"offset": 0.4, "color": "#FFFFFF"}, {"offset": 0.52, "color": "#FFFFFF"}, {"offset": 1, "color": "#FF6E6E"}]}},
      {"test": "datum.p === '0.5 MPa'", "value": {"gradient": "linear", "x1": 0, "y1": 0, "x2": 1, "y2": 0, "stops": [{"offset": 0, "color": "#6BAED8"}, {"offset": 0.4, "color": "#FFFFFF"}, {"offset": 0.52, "color": "#FFFFFF"}, {"offset": 1, "color": "#6BAED8"}]}},
      {"test": "datum.p === '0.3 MPa'", "value": {"gradient": "linear", "x1": 0, "y1": 0, "x2": 1, "y2": 0, "stops": [{"offset": 0, "color": "#FF965E"}, {"offset": 0.4, "color": "#FFFFFF"}, {"offset": 0.52, "color": "#FFFFFF"}, {"offset": 1, "color": "#FF965E"}]}},
      {"test": "datum.p === '0.2 MPa'", "value": {"gradient": "linear", "x1": 0, "y1": 0, "x2": 1, "y2": 0, "stops": [{"offset": 0, "color": "#00A088"}, {"offset": 0.4, "color": "#FFFFFF"}, {"offset": 0.52, "color": "#FFFFFF"}, {"offset": 1, "color": "#00A088"}]}}
    ], "value": {"gradient": "linear", "x1": 0, "y1": 0, "x2": 1, "y2": 0, "stops": [{"offset": 0, "color": "#C3B8DC"}, {"offset": 0.4, "color": "#FFFFFF"}, {"offset": 0.52, "color": "#FFFFFF"}, {"offset": 1, "color": "#C3B8DC"}]}}
   }},
  {"mark": {"type": "bar"},
   "encoding": {
    "x": {"field": "p", "type": "nominal", "scale": {"domain": ["0.8 MPa", "0.5 MPa", "0.3 MPa", "0.2 MPa", "0.1 MPa"], "paddingInner": 0.4, "paddingOuter": 0.2}, "axis": null},
    "y": {"datum": 10, "type": "quantitative", "axis": {"orient": "left", "values": [2.5, 7.5, 42.5, 47.5, 52.5, 57.5, 62.5], "tickSize": -9, "labels": false, "domain": false, "title": null}},
    "y2": {"datum": 0},
    "fill": {"condition": [
      {"test": "datum.p === '0.8 MPa'", "value": {"gradient": "linear", "x1": 0, "y1": 0, "x2": 1, "y2": 0, "stops": [{"offset": 0, "color": "#FF6E6E"}, {"offset": 0.4, "color": "#FFFFFF"}, {"offset": 0.52, "color": "#FFFFFF"}, {"offset": 1, "color": "#FF6E6E"}]}},
      {"test": "datum.p === '0.5 MPa'", "value": {"gradient": "linear", "x1": 0, "y1": 0, "x2": 1, "y2": 0, "stops": [{"offset": 0, "color": "#6BAED8"}, {"offset": 0.4, "color": "#FFFFFF"}, {"offset": 0.52, "color": "#FFFFFF"}, {"offset": 1, "color": "#6BAED8"}]}},
      {"test": "datum.p === '0.3 MPa'", "value": {"gradient": "linear", "x1": 0, "y1": 0, "x2": 1, "y2": 0, "stops": [{"offset": 0, "color": "#FF965E"}, {"offset": 0.4, "color": "#FFFFFF"}, {"offset": 0.52, "color": "#FFFFFF"}, {"offset": 1, "color": "#FF965E"}]}},
      {"test": "datum.p === '0.2 MPa'", "value": {"gradient": "linear", "x1": 0, "y1": 0, "x2": 1, "y2": 0, "stops": [{"offset": 0, "color": "#00A088"}, {"offset": 0.4, "color": "#FFFFFF"}, {"offset": 0.52, "color": "#FFFFFF"}, {"offset": 1, "color": "#00A088"}]}}
    ], "value": {"gradient": "linear", "x1": 0, "y1": 0, "x2": 1, "y2": 0, "stops": [{"offset": 0, "color": "#C3B8DC"}, {"offset": 0.4, "color": "#FFFFFF"}, {"offset": 0.52, "color": "#FFFFFF"}, {"offset": 1, "color": "#C3B8DC"}]}}
   }},
  {"mark": {"type": "text", "baseline": "bottom", "dy": -8, "fontSize": 52},
   "encoding": {
    "x": {"field": "p", "type": "nominal", "scale": {"domain": ["0.8 MPa", "0.5 MPa", "0.3 MPa", "0.2 MPa", "0.1 MPa"], "paddingInner": 0.4, "paddingOuter": 0.2}, "axis": null},
    "y": {"field": "v", "type": "quantitative", "axis": null},
    "text": {"field": "v", "type": "quantitative", "format": ".3f"}
   }},
  {"data": {"values": [{}]}, "mark": {"type": "rule", "color": "white", "strokeWidth": 15, "xOffset": -24, "x2Offset": 24, "yOffset": 12, "y2Offset": -12},
   "encoding": {"x": {"datum": 0, "type": "quantitative", "scale": {"domain": [0, 1]}, "axis": null}, "x2": {"datum": 0}, "y": {"datum": 25, "type": "quantitative", "axis": null}, "y2": {"datum": 25}}},
  {"data": {"values": [{}]}, "mark": {"type": "rule", "color": "black", "strokeWidth": 3, "xOffset": -21, "x2Offset": 21, "yOffset": 1.5, "y2Offset": -19.5},
   "encoding": {"x": {"datum": 0, "type": "quantitative", "scale": {"domain": [0, 1]}, "axis": null}, "x2": {"datum": 0}, "y": {"datum": 25, "type": "quantitative", "axis": null}, "y2": {"datum": 25}}},
  {"data": {"values": [{}]}, "mark": {"type": "rule", "color": "black", "strokeWidth": 3, "xOffset": -21, "x2Offset": 21, "yOffset": 19.5, "y2Offset": -1.5},
   "encoding": {"x": {"datum": 0, "type": "quantitative", "scale": {"domain": [0, 1]}, "axis": null}, "x2": {"datum": 0}, "y": {"datum": 25, "type": "quantitative", "axis": null}, "y2": {"datum": 25}}},
  {"data": {"values": [{}]}, "mark": {"type": "rule", "color": "white", "strokeWidth": 15, "xOffset": -24, "x2Offset": 24, "yOffset": 12, "y2Offset": -12},
   "encoding": {"x": {"datum": 1, "type": "quantitative", "scale": {"domain": [0, 1]}, "axis": null}, "x2": {"datum": 1}, "y": {"datum": 25, "type": "quantitative", "axis": null}, "y2": {"datum": 25}}},
  {"data": {"values": [{}]}, "mark": {"type": "rule", "color": "black", "strokeWidth": 3, "xOffset": -21, "x2Offset": 21, "yOffset": 1.5, "y2Offset": -19.5},
   "encoding": {"x": {"datum": 1, "type": "quantitative", "scale": {"domain": [0, 1]}, "axis": null}, "x2": {"datum": 1}, "y": {"datum": 25, "type": "quantitative", "axis": null}, "y2": {"datum": 25}}},
  {"data": {"values": [{}]}, "mark": {"type": "rule", "color": "black", "strokeWidth": 3, "xOffset": -21, "x2Offset": 21, "yOffset": 19.5, "y2Offset": -1.5},
   "encoding": {"x": {"datum": 1, "type": "quantitative", "scale": {"domain": [0, 1]}, "axis": null}, "x2": {"datum": 1}, "y": {"datum": 25, "type": "quantitative", "axis": null}, "y2": {"datum": 25}}}
 ],
 "resolve": {"scale": {"x": "independent"}, "axis": {"x": "independent", "y": "independent"}}
},
{
 "width": 1261, "height": 1036,
 "data": {"name": "kmax"},
 "title": {"text": "(D)", "orient": "bottom", "anchor": "start", "frame": "group", "dx": 245, "offset": -97, "baseline": "top", "fontSize": 80},
 "layer": [
  {"mark": {"type": "bar"},
   "encoding": {
    "x": {"field": "p", "type": "nominal", "scale": {"domain": ["0.8 MPa", "0.5 MPa", "0.3 MPa", "0.2 MPa", "0.1 MPa"], "paddingInner": 0.4, "paddingOuter": 0.2}, "axis": {"orient": "bottom", "labelAngle": 0, "tickSize": -15, "labelPadding": 42, "labelFontSize": 40, "title": "Outlet Pressure", "titlePadding": 19}},
    "y": {"field": "v", "type": "quantitative", "scale": {"domain": [0, 10, 50, 120], "range": [1036, 907.0, 890.2, 0], "nice": false, "zero": false}, "axis": {"orient": "left", "values": [0, 60, 70, 80, 90, 100, 110, 120], "tickSize": -18, "labelPadding": 41, "labelFontSize": 41, "title": "Maximum Turbulence Kinetic Energy (m²/s²)", "titlePadding": 11}},
    "y2": {"datum": 50},
    "fill": {"condition": [
      {"test": "datum.p === '0.8 MPa'", "value": {"gradient": "linear", "x1": 0, "y1": 0, "x2": 1, "y2": 0, "stops": [{"offset": 0, "color": "#FF6E6E"}, {"offset": 0.4, "color": "#FFFFFF"}, {"offset": 0.52, "color": "#FFFFFF"}, {"offset": 1, "color": "#FF6E6E"}]}},
      {"test": "datum.p === '0.5 MPa'", "value": {"gradient": "linear", "x1": 0, "y1": 0, "x2": 1, "y2": 0, "stops": [{"offset": 0, "color": "#6BAED8"}, {"offset": 0.4, "color": "#FFFFFF"}, {"offset": 0.52, "color": "#FFFFFF"}, {"offset": 1, "color": "#6BAED8"}]}},
      {"test": "datum.p === '0.3 MPa'", "value": {"gradient": "linear", "x1": 0, "y1": 0, "x2": 1, "y2": 0, "stops": [{"offset": 0, "color": "#FF965E"}, {"offset": 0.4, "color": "#FFFFFF"}, {"offset": 0.52, "color": "#FFFFFF"}, {"offset": 1, "color": "#FF965E"}]}},
      {"test": "datum.p === '0.2 MPa'", "value": {"gradient": "linear", "x1": 0, "y1": 0, "x2": 1, "y2": 0, "stops": [{"offset": 0, "color": "#00A088"}, {"offset": 0.4, "color": "#FFFFFF"}, {"offset": 0.52, "color": "#FFFFFF"}, {"offset": 1, "color": "#00A088"}]}}
    ], "value": {"gradient": "linear", "x1": 0, "y1": 0, "x2": 1, "y2": 0, "stops": [{"offset": 0, "color": "#C3B8DC"}, {"offset": 0.4, "color": "#FFFFFF"}, {"offset": 0.52, "color": "#FFFFFF"}, {"offset": 1, "color": "#C3B8DC"}]}}
   }},
  {"mark": {"type": "bar"},
   "encoding": {
    "x": {"field": "p", "type": "nominal", "scale": {"domain": ["0.8 MPa", "0.5 MPa", "0.3 MPa", "0.2 MPa", "0.1 MPa"], "paddingInner": 0.4, "paddingOuter": 0.2}, "axis": null},
    "y": {"datum": 10, "type": "quantitative", "axis": {"orient": "left", "values": [5, 55, 65, 75, 85, 95, 105, 115], "tickSize": -9, "labels": false, "domain": false, "title": null}},
    "y2": {"datum": 0},
    "fill": {"condition": [
      {"test": "datum.p === '0.8 MPa'", "value": {"gradient": "linear", "x1": 0, "y1": 0, "x2": 1, "y2": 0, "stops": [{"offset": 0, "color": "#FF6E6E"}, {"offset": 0.4, "color": "#FFFFFF"}, {"offset": 0.52, "color": "#FFFFFF"}, {"offset": 1, "color": "#FF6E6E"}]}},
      {"test": "datum.p === '0.5 MPa'", "value": {"gradient": "linear", "x1": 0, "y1": 0, "x2": 1, "y2": 0, "stops": [{"offset": 0, "color": "#6BAED8"}, {"offset": 0.4, "color": "#FFFFFF"}, {"offset": 0.52, "color": "#FFFFFF"}, {"offset": 1, "color": "#6BAED8"}]}},
      {"test": "datum.p === '0.3 MPa'", "value": {"gradient": "linear", "x1": 0, "y1": 0, "x2": 1, "y2": 0, "stops": [{"offset": 0, "color": "#FF965E"}, {"offset": 0.4, "color": "#FFFFFF"}, {"offset": 0.52, "color": "#FFFFFF"}, {"offset": 1, "color": "#FF965E"}]}},
      {"test": "datum.p === '0.2 MPa'", "value": {"gradient": "linear", "x1": 0, "y1": 0, "x2": 1, "y2": 0, "stops": [{"offset": 0, "color": "#00A088"}, {"offset": 0.4, "color": "#FFFFFF"}, {"offset": 0.52, "color": "#FFFFFF"}, {"offset": 1, "color": "#00A088"}]}}
    ], "value": {"gradient": "linear", "x1": 0, "y1": 0, "x2": 1, "y2": 0, "stops": [{"offset": 0, "color": "#C3B8DC"}, {"offset": 0.4, "color": "#FFFFFF"}, {"offset": 0.52, "color": "#FFFFFF"}, {"offset": 1, "color": "#C3B8DC"}]}}
   }},
  {"mark": {"type": "text", "baseline": "bottom", "dy": -8, "fontSize": 52},
   "encoding": {
    "x": {"field": "p", "type": "nominal", "scale": {"domain": ["0.8 MPa", "0.5 MPa", "0.3 MPa", "0.2 MPa", "0.1 MPa"], "paddingInner": 0.4, "paddingOuter": 0.2}, "axis": null},
    "y": {"field": "v", "type": "quantitative", "axis": null},
    "text": {"field": "v", "type": "quantitative", "format": ".3f"}
   }},
  {"data": {"values": [{}]}, "mark": {"type": "rule", "color": "white", "strokeWidth": 15, "xOffset": -24, "x2Offset": 24, "yOffset": 12, "y2Offset": -12},
   "encoding": {"x": {"datum": 0, "type": "quantitative", "scale": {"domain": [0, 1]}, "axis": null}, "x2": {"datum": 0}, "y": {"datum": 30, "type": "quantitative", "axis": null}, "y2": {"datum": 30}}},
  {"data": {"values": [{}]}, "mark": {"type": "rule", "color": "black", "strokeWidth": 3, "xOffset": -21, "x2Offset": 21, "yOffset": 1.5, "y2Offset": -19.5},
   "encoding": {"x": {"datum": 0, "type": "quantitative", "scale": {"domain": [0, 1]}, "axis": null}, "x2": {"datum": 0}, "y": {"datum": 30, "type": "quantitative", "axis": null}, "y2": {"datum": 30}}},
  {"data": {"values": [{}]}, "mark": {"type": "rule", "color": "black", "strokeWidth": 3, "xOffset": -21, "x2Offset": 21, "yOffset": 19.5, "y2Offset": -1.5},
   "encoding": {"x": {"datum": 0, "type": "quantitative", "scale": {"domain": [0, 1]}, "axis": null}, "x2": {"datum": 0}, "y": {"datum": 30, "type": "quantitative", "axis": null}, "y2": {"datum": 30}}},
  {"data": {"values": [{}]}, "mark": {"type": "rule", "color": "white", "strokeWidth": 15, "xOffset": -24, "x2Offset": 24, "yOffset": 12, "y2Offset": -12},
   "encoding": {"x": {"datum": 1, "type": "quantitative", "scale": {"domain": [0, 1]}, "axis": null}, "x2": {"datum": 1}, "y": {"datum": 30, "type": "quantitative", "axis": null}, "y2": {"datum": 30}}},
  {"data": {"values": [{}]}, "mark": {"type": "rule", "color": "black", "strokeWidth": 3, "xOffset": -21, "x2Offset": 21, "yOffset": 1.5, "y2Offset": -19.5},
   "encoding": {"x": {"datum": 1, "type": "quantitative", "scale": {"domain": [0, 1]}, "axis": null}, "x2": {"datum": 1}, "y": {"datum": 30, "type": "quantitative", "axis": null}, "y2": {"datum": 30}}},
  {"data": {"values": [{}]}, "mark": {"type": "rule", "color": "black", "strokeWidth": 3, "xOffset": -21, "x2Offset": 21, "yOffset": 19.5, "y2Offset": -1.5},
   "encoding": {"x": {"datum": 1, "type": "quantitative", "scale": {"domain": [0, 1]}, "axis": null}, "x2": {"datum": 1}, "y": {"datum": 30, "type": "quantitative", "axis": null}, "y2": {"datum": 30}}}
 ],
 "resolve": {"scale": {"x": "independent"}, "axis": {"x": "independent", "y": "independent"}}
}
]
}
